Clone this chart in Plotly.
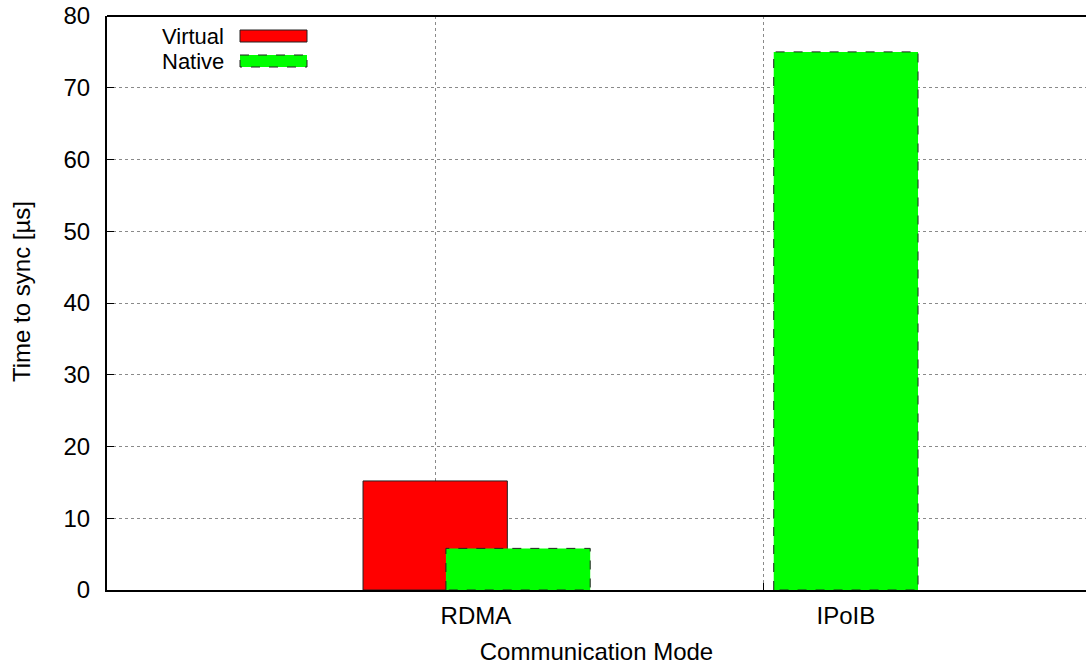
import plotly.graph_objects as go

# ---- data ----
categories = ["RDMA", "IPoIB"]
cat_pos = [0, 1]
virtual = [15.2, None]
native = [5.8, 75.0]
y_ticks = [0, 10, 20, 30, 40, 50, 60, 70, 80]

# ---- geometry (styling) ----
W, H = 1086, 668
PL, PR, PT, PB = 107, 1086, 16, 590   # plot area in page pixels
L, T, R, B = PL, PT, W - PR, H - PB
bar_w = 0.39
virt_offset = [-0.305, -0.305]
nat_offset = [-0.081, -0.195]
grid_x = [-0.109, 0.778]
x_range = [-0.997, 1.649]

fig = go.Figure()
fig.add_trace(go.Bar(
    x=cat_pos, y=virtual, width=bar_w, offset=virt_offset,
    marker=dict(color="#ff0000", line=dict(color="#222222", width=1)),
    name="Virtual", showlegend=False))
fig.add_trace(go.Bar(
    x=cat_pos, y=native, width=bar_w, offset=nat_offset,
    marker=dict(color="#00ff00", line=dict(color="#00ff00", width=0)),
    name="Native", showlegend=False))

# dashed outlines for native bars, computed from the data
for xp, v, off in zip(cat_pos, native, nat_offset):
    if v is None:
        continue
    x0 = xp + off
    x1 = x0 + bar_w
    fig.add_trace(go.Scatter(
        x=[x0, x0, x1, x1, x0], y=[0, v, v, 0, 0], mode="lines",
        line=dict(color="#222222", width=1, dash="dash"),
        hoverinfo="skip", showlegend=False))

font = dict(family="Liberation Sans, Arial, sans-serif", size=24, color="#000000")
legend_font = dict(family="Liberation Sans, Arial, sans-serif", size=22, color="#000000")

fig.update_layout(
    width=W, height=H,
    margin=dict(l=L, r=R, t=T, b=B, autoexpand=False),
    paper_bgcolor="white", plot_bgcolor="white",
    font=font,
    barmode="overlay",
    xaxis=dict(
        range=x_range, tickvals=cat_pos, ticktext=categories,
        showgrid=False, ticks="", zeroline=False,
        showline=True, linecolor="black", linewidth=2,
        tickfont=font,
        title=dict(text="Communication Mode", standoff=15, font=font),
        ticklabelstandoff=3,
    ),
    xaxis2=dict(
        range=x_range, overlaying="x", anchor="y", side="bottom",
        tickvals=grid_x, showticklabels=False,
        showgrid=True, gridcolor="#8a8a8a", griddash="dot", gridwidth=1,
        ticks="inside", ticklen=7, tickcolor="black", tickwidth=1,
        zeroline=False, showline=False, layer="below traces",
    ),
    yaxis=dict(
        range=[0, 80], tickvals=y_ticks,
        showgrid=True, gridcolor="#8a8a8a", griddash="dot", gridwidth=1,
        ticks="inside", ticklen=7, tickcolor="black",
        zeroline=False, showline=True, linecolor="black", linewidth=2,
        tickfont=font, ticklabelstandoff=10, ticklabeloverflow="allow",
        layer="below traces",
    ),
)
# dummy trace on xaxis2 so it renders
fig.add_trace(go.Scatter(x=[grid_x[0]], y=[None], xaxis="x2", showlegend=False, hoverinfo="skip"))

# top border
fig.add_shape(type="line", xref="paper", yref="paper", x0=0, x1=1, y0=1, y1=1,
              line=dict(color="black", width=2))

def px2paper(px, py):
    return (px - PL) / (PR - PL), (PB - py) / (PB - PT)

# y axis title
yx, yy = px2paper(21, 292)
fig.add_annotation(x=yx, y=yy, xref="paper", yref="paper", text="Time to sync [µs]",
                   textangle=-90, showarrow=False, xanchor="center", yanchor="middle", font=font)

# custom legend (text left of swatch), positions in page pixels
legend_items = [("Virtual", "#ff0000", "solid", 36), ("Native", "#00ff00", "dash", 61)]
for name, col, dash, cy in legend_items:
    tx, ty = px2paper(226, cy)
    fig.add_annotation(x=tx, y=ty, xref="paper", yref="paper", text=name,
                       showarrow=False, xanchor="right", yanchor="middle", font=legend_font)
    x0, y0 = px2paper(240, cy - 6)
    x1, y1 = px2paper(307, cy + 6)
    fig.add_shape(type="rect", xref="paper", yref="paper", x0=x0, x1=x1, y0=y0, y1=y1,
                  fillcolor=col, line=dict(color="#222222", width=1, dash=dash))

fig.write_html("out.html",
               config={"displayModeBar": False},
               post_script="document.body.style.margin='0';document.body.style.overflow='hidden';")
